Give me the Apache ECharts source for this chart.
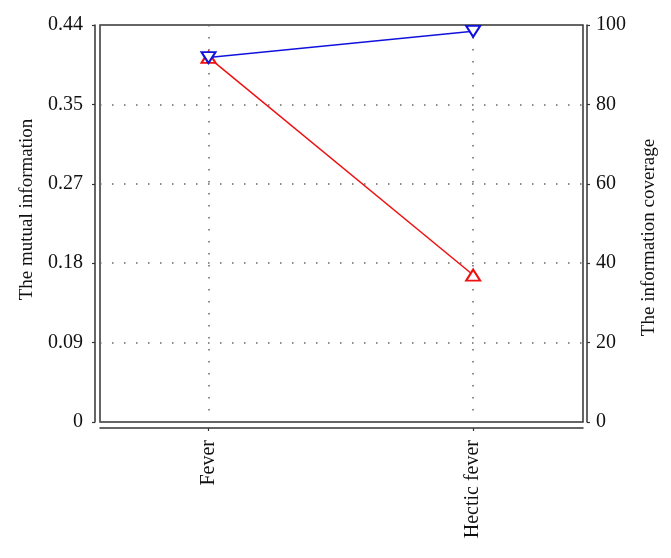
<!DOCTYPE html>
<html>
<head>
<meta charset="utf-8">
<script src="https://cdn.jsdelivr.net/npm/echarts@6/dist/echarts.min.js"></script>
<style>
html, body { margin: 0; padding: 0; background: #fff; }
#chart { width: 671px; height: 558px; }
</style>
</head>
<body>
<div id="chart"></div>
<script>
// categories and values
const categories = ['Fever', 'Hectic fever']
const mutualInfo = [0.4065, 0.1638]   // left axis, red
const coverage = [91.8, 98.4]         // right axis, blue
const leftTickLabels = ['0', '0.09', '0.18', '0.27', '0.35', '0.44']
const leftMax = 0.4425
const rightMax = 100

const font = 'Liberation Serif'
const dotted = { color: '#666', width: 1.5, type: [1.5, 10.5] }
const axisLine = { show: true, onZero: false, lineStyle: { color: '#333', width: 1.5 } }
const tick = { show: true, length: 3, lineStyle: { color: '#333', width: 1.2 } }
const tickIdx = categories.map((c, i) => i)

const option = {
  animation: false,
  backgroundColor: '#fff',
  grid: {
    show: true,
    left: 100, right: 88, top: 25, bottom: 136,
    borderColor: '#333', borderWidth: 1.5,
    containLabel: false
  },
  xAxis: {
    type: 'value',
    min: -0.41, max: 1.415,
    offset: 6,
    axisLine: axisLine,
    axisTick: Object.assign({ customValues: tickIdx }, tick),
    axisLabel: {
      customValues: tickIdx,
      rotate: 90, margin: 12,
      formatter: v => categories[Math.round(v)],
      fontFamily: font, fontSize: 20, color: '#111'
    },
    splitLine: { show: true, lineStyle: dotted }
  },
  yAxis: [
    {
      type: 'value',
      position: 'left',
      min: 0, max: leftMax, interval: leftMax / 5,
      offset: 5,
      name: 'The mutual information',
      nameLocation: 'middle', nameGap: 58,
      nameTextStyle: { fontFamily: font, fontSize: 19, color: '#111', padding: [0, 0, 0, 28] },
      axisLine: axisLine,
      axisTick: tick,
      axisLabel: {
        margin: 12,
        formatter: v => leftTickLabels[Math.round(v / (leftMax / 5))],
        fontFamily: font, fontSize: 20, color: '#111'
      },
      splitLine: { show: false }
    },
    {
      type: 'value',
      position: 'right',
      min: 0, max: rightMax, interval: 20,
      offset: 4,
      name: 'The information coverage',
      nameLocation: 'middle', nameGap: 53,
      nameTextStyle: { fontFamily: font, fontSize: 19, color: '#111', padding: [0, 28, 0, 0] },
      axisLine: axisLine,
      axisTick: tick,
      axisLabel: { margin: 9, fontFamily: font, fontSize: 20, color: '#111' },
      splitLine: { show: true, lineStyle: dotted }
    }
  ],
  series: [
    {
      name: 'The mutual information',
      type: 'line',
      yAxisIndex: 0,
      data: mutualInfo.map((v, i) => [i, v]),
      symbol: 'emptyTriangle',
      symbolSize: [14, 11],
      lineStyle: { color: '#ee1111', width: 1.5 },
      itemStyle: { color: '#ee1111', borderWidth: 1.5 },
      z: 3
    },
    {
      name: 'The information coverage',
      type: 'line',
      yAxisIndex: 1,
      data: coverage.map((v, i) => [i, v]),
      symbol: 'emptyTriangle',
      symbolRotate: 180,
      symbolSize: [14, 11],
      lineStyle: { color: '#1111dd', width: 1.5 },
      itemStyle: { color: '#1111dd', borderWidth: 1.5 },
      z: 4
    }
  ]
}

const myChart = echarts.init(document.getElementById('chart'))
myChart.setOption(option)
</script>
</body>
</html>
